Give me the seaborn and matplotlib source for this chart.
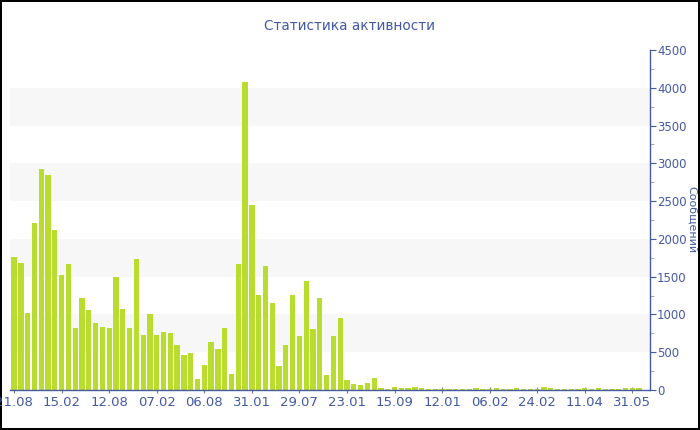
import matplotlib
matplotlib.use('Agg')
import matplotlib.pyplot as plt
import seaborn as sns
import pandas as pd

# сообщений за период (по порядку)
messages = [1765, 1685, 1015, 2215, 2920, 2841, 2117, 1522, 1667, 816,
            1217, 1054, 891, 838, 825, 1495, 1067, 825, 1729, 723,
            1001, 728, 768, 750, 595, 459, 490, 150, 331, 635,
            538, 825, 212, 1667, 4071, 2444, 1253, 1641, 1147, 322,
            591, 1257, 719, 1447, 803, 1220, 205, 710, 953, 132,
            75, 62, 93, 154, 22, 18, 35, 22, 26, 35,
            22, 18, 9, 13, 13, 13, 13, 13, 22, 13,
            13, 22, 13, 18, 26, 13, 13, 18, 44, 22,
            18, 18, 18, 18, 22, 18, 22, 18, 18, 18,
            22, 22, 22]
tick_labels = ['21.08', '15.02', '12.08', '07.02', '06.08', '31.01', '29.07',
               '23.01', '15.09', '12.01', '06.02', '24.02', '11.04', '31.05']
tick_step = 7

df = pd.DataFrame({'idx': range(len(messages)), 'count': messages})

blue = '#4459a4'
bar_color = '#b9dd2e'

sns.set_style('white')
plt.rcParams['font.family'] = ['DejaVu Sans']

fig = plt.figure(figsize=(7, 4.3), dpi=100)
fig.patch.set_edgecolor('black')
fig.patch.set_linewidth(1.5)
ax = fig.add_axes([10 / 700, 40 / 430, 640 / 700, 340 / 430])

# полосы фона
for lo in [500, 1500, 2500, 3500]:
    ax.axhspan(lo, lo + 500, color='#f7f7f7', zorder=0, lw=0)

sns.barplot(data=df, x='idx', y='count', color=bar_color, saturation=1,
            width=0.78, linewidth=0, ax=ax, zorder=2)

ax.set_xlim(-0.6, 93.6)
ax.set_ylim(0, 4500)
ax.set_xticks(range(0, tick_step * len(tick_labels), tick_step))
ax.set_xticklabels(tick_labels)
ax.set_yticks(range(0, 4501, 500))
ax.set_yticks(range(250, 4500, 500), minor=True)

ax.yaxis.tick_right()
ax.yaxis.set_label_position('right')
for s in ['top', 'left']:
    ax.spines[s].set_visible(False)
for s in ['right', 'bottom']:
    ax.spines[s].set_color(blue)
    ax.spines[s].set_linewidth(1)

ax.tick_params(axis='x', which='major', direction='inout', length=4, color='#777777',
               labelcolor=blue, labelsize=9.5, pad=2, bottom=True)
ax.tick_params(axis='y', which='major', direction='out', length=4, color=blue,
               labelcolor=blue, labelsize=8.5, pad=1, right=True)
ax.tick_params(axis='y', which='minor', direction='out', length=3, color='#999999', right=True)

ax.set_xlabel('')
ax.set_ylabel('Сообщений', color=blue, fontsize=8, rotation=-90)
ax.yaxis.set_label_coords(1.073, 0.5)

fig.text(0.5, 0.94, 'Статистика активности', ha='center', va='center',
         color=blue, fontsize=9.8)

plt.savefig('out.png', dpi=100)
